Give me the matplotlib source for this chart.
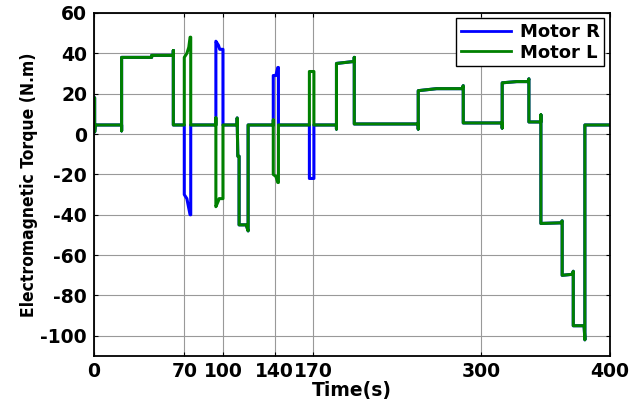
import matplotlib.pyplot as plt

plt.rcParams["axes.unicode_minus"] = False

# Shared part at the start (both motors identical)
time_head = [0, 0.5, 0.5, 1, 21.4, 21.4, 21.4, 44.7, 44.7, 61.5, 61.5, 61.5]
torque_head = [18, 18, 1, 4.5, 4.5, 1.6, 38, 38, 39, 39, 41.4, 4.5]

# Shared part after 170 s
time_tail = [188, 188, 188, 195, 201.8, 201.8, 201.8,
             251.4, 251.4, 251.4, 265.6, 285.5, 286.3, 286.3,
             316.5, 316.5, 316.5, 327.7, 336.5, 337.2, 337.2,
             346.5, 346.5, 346.5, 362, 363, 363,
             371, 371.6, 371.6, 380, 380.6, 380.6, 400]
torque_tail = [4.5, 2.5, 35, 35.5, 36, 38, 5,
               5, 2.5, 21.5, 22.5, 22.5, 24, 5.5,
               5.5, 3, 25.4, 26, 26, 27.4, 6,
               6, 9.5, -44.3, -44, -43, -70,
               -69.5, -68, -95, -95, -102, 4.5, 4.5]

# Motor L (green) middle section
time_l = [70, 70, 72, 73.5, 74.5, 75, 75,
          94.5, 94.5, 94.5, 96.5, 97, 100, 100,
          111, 111, 111.5, 112.5, 112.5, 118, 119.5, 119.5,
          139, 139, 139, 141, 142.5, 143, 143,
          167, 167, 170.5, 170.5]
torque_l = [4.5, 38, 40, 43, 48, 48, 4.5,
            4.5, 8, -36, -33, -32, -32, 4.5,
            4.5, 8, -11, -11, -45, -45, -48, 4.5,
            4.5, 7, -20, -21, -24, -24, 4.5,
            4.5, 31, 31, 4.5]

# Motor R (blue) middle section
time_r = [70, 70, 72, 74.5, 75, 75,
          94.5, 94.5, 96.5, 97.5, 100, 100,
          111, 111, 111.5, 112.5, 112.5, 118, 119.5, 119.5,
          139, 139, 141, 142.5, 143, 143,
          167, 167, 170.5, 170.5]
torque_r = [4.5, -30, -32, -40, -40, 4.5,
            4.5, 46, 44, 42, 42, 4.5,
            4.5, 8, -11, -11, -45, -45, -48, 4.5,
            4.5, 29, 29, 33, 33, 4.5,
            4.5, -22, -22, 4.5]

xticks = [0, 70, 100, 140, 170, 300, 400]
yticks = [-100, -80, -60, -40, -20, 0, 20, 40, 60]

fig = plt.figure(figsize=(6.33, 4.0), dpi=100)
ax = fig.add_axes([0.1485, 0.11, 0.815, 0.8575])

ax.plot(time_head + time_r + time_tail, torque_head + torque_r + torque_tail,
        color=(0, 0, 1), linewidth=2.2, label="Motor R")
ax.plot(time_head + time_l + time_tail, torque_head + torque_l + torque_tail,
        color=(0, 0.5, 0), linewidth=2.2, label="Motor L")

ax.set_xlim(0, 400)
ax.set_ylim(-110, 60)
ax.set_xticks(xticks)
ax.set_yticks(yticks)
ax.grid(True, color="0.6", linewidth=0.8)
ax.tick_params(direction="in", top=True, right=True, length=3,
               labelsize=13.5, pad=5)
ax.tick_params(axis="x", pad=4)
for lbl in ax.get_xticklabels() + ax.get_yticklabels():
    lbl.set_fontweight("bold")
for sp in ax.spines.values():
    sp.set_linewidth(1.3)

ax.set_xlabel("Time(s)", fontsize=13.5, fontweight="bold", labelpad=0)
ax.set_ylabel("Electromagnetic Torque (N.m)", fontsize=12.5,
              fontweight="bold", fontstretch="condensed", labelpad=2)

leg = ax.legend(loc="upper right", prop={"weight": "bold", "size": 13},
                fancybox=False, edgecolor="black", framealpha=1,
                borderpad=0.25, handlelength=2.8, handletextpad=0.5,
                labelspacing=0.15, borderaxespad=0.3)
leg.get_frame().set_linewidth(1.0)
for line in leg.get_lines():
    line.set_linewidth(2.0)

fig.savefig("out.png", dpi=100)
